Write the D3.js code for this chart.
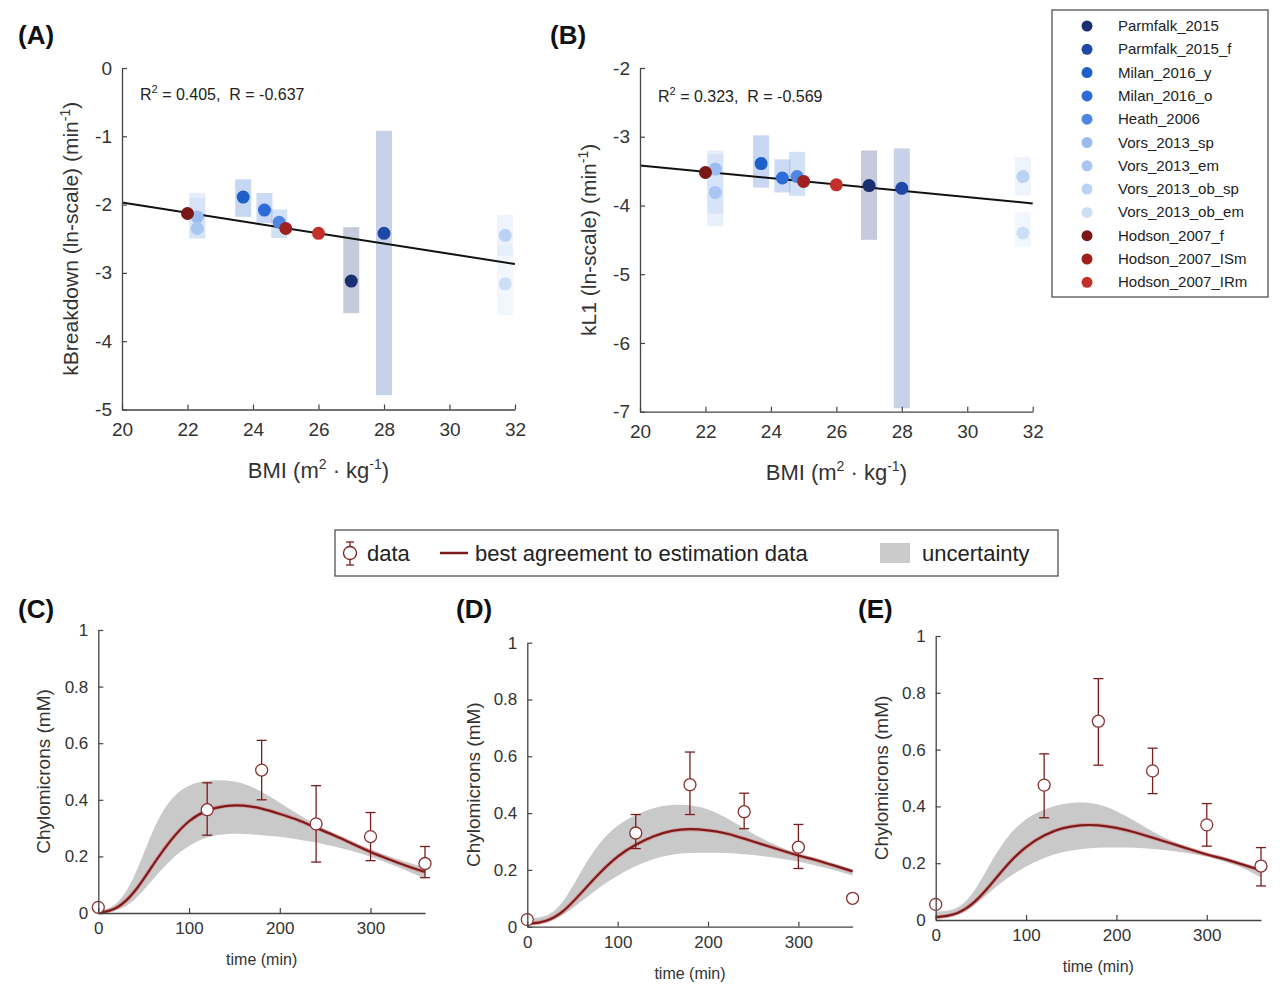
<!DOCTYPE html>
<html><head><meta charset="utf-8">
<script src="https://cdn.jsdelivr.net/npm/d3@7"></script>
<style>body{margin:0;background:#fff}text{font-family:Arial,"Liberation Sans",sans-serif;white-space:pre}</style>
</head><body>
<svg id="c" width="1280" height="1002"></svg>
<script>
// ---- data ----
const studies = ["Parmfalk_2015","Parmfalk_2015_f","Milan_2016_y","Milan_2016_o","Heath_2006","Vors_2013_sp","Vors_2013_em","Vors_2013_ob_sp","Vors_2013_ob_em","Hodson_2007_f","Hodson_2007_ISm","Hodson_2007_IRm"];
const studyColors = ["#1b2f70","#1f47a6","#1f5fc8","#2d6bd9","#4f86e0","#9cbcf0","#a9c5f2","#bbd2f4","#cddff7","#7a1616","#a01f1f","#c2302a"];
const bmi = [27.0,28.0,23.7,24.35,24.8,22.3,22.3,31.7,31.7,22.0,25.0,26.0];
const kBreak = [-3.12,-2.42,-1.89,-2.08,-2.26,-2.18,-2.35,-2.45,-3.16,-2.13,-2.35,-2.42];
const kBreakLo = [-3.59,-4.79,-2.18,-2.27,-2.49,-2.49,-2.5,-2.75,-3.62,null,null,null];
const kBreakHi = [-2.33,-0.92,-1.63,-1.83,-2.07,-1.83,-1.9,-2.15,-2.6,null,null,null];
const kL1 = [-3.71,-3.75,-3.39,-3.60,-3.58,-3.47,-3.81,-3.58,-4.40,-3.52,-3.65,-3.70];
const kL1Lo = [-4.5,-6.95,-3.74,-3.81,-3.86,-4.12,-4.3,-3.85,-4.6,null,null,null];
const kL1Hi = [-3.2,-3.17,-2.98,-3.33,-3.22,-3.2,-3.25,-3.3,-4.1,null,null,null];
const fitBmi = [20,32];
const fitA = [-1.97,-2.87];
const fitB = [-3.42,-3.97];
const bmiTicks = [20,22,24,26,28,30,32];

const tData = [0,120,180,240,300,360];
const dataC = [0.02,0.365,0.505,0.315,0.27,0.175];
const loC = [null,0.275,0.40,0.18,0.185,0.125];
const hiC = [null,0.46,0.61,0.45,0.355,0.235];
const dataD = [0.025,0.33,0.50,0.405,0.28,0.10];
const loD = [null,0.275,0.395,0.345,0.205,0.09];
const hiD = [null,0.395,0.615,0.47,0.36,0.11];
const dataE = [0.055,0.475,0.70,0.525,0.335,0.19];
const loE = [null,0.36,0.545,0.445,0.26,0.12];
const hiE = [null,0.585,0.85,0.605,0.41,0.255];
const tModel = [0,20,40,60,80,100,120,140,160,180,200,220,240,260,280,300,320,340,360];
const fitC = [0,0.01,0.07,0.17,0.26,0.33,0.365,0.38,0.382,0.37,0.35,0.33,0.30,0.275,0.245,0.215,0.19,0.165,0.145];
const upC = [0.005,0.02,0.12,0.30,0.41,0.455,0.47,0.47,0.46,0.43,0.39,0.35,0.31,0.28,0.25,0.225,0.20,0.18,0.16];
const dnC = [0,0.005,0.04,0.12,0.19,0.24,0.27,0.28,0.28,0.275,0.27,0.26,0.25,0.235,0.22,0.20,0.175,0.15,0.12];
const fitD = [0.01,0.015,0.05,0.12,0.19,0.25,0.29,0.32,0.34,0.345,0.34,0.33,0.31,0.29,0.27,0.25,0.235,0.215,0.195];
const upD = [0.03,0.03,0.08,0.2,0.3,0.36,0.395,0.42,0.43,0.43,0.415,0.385,0.345,0.31,0.28,0.255,0.24,0.22,0.2];
const dnD = [0.005,0.01,0.04,0.09,0.14,0.18,0.215,0.24,0.255,0.26,0.26,0.26,0.255,0.25,0.24,0.23,0.215,0.2,0.18];
const fitE = [0.01,0.015,0.05,0.12,0.2,0.26,0.3,0.325,0.335,0.335,0.325,0.31,0.29,0.27,0.25,0.23,0.215,0.195,0.175];
const upE = [0.03,0.03,0.08,0.2,0.3,0.36,0.39,0.41,0.415,0.41,0.385,0.35,0.31,0.28,0.255,0.235,0.215,0.195,0.165];
const dnE = [0.005,0.01,0.04,0.1,0.15,0.19,0.22,0.24,0.25,0.255,0.255,0.255,0.25,0.245,0.235,0.225,0.205,0.185,0.15];
const timeTicks = [0,100,200,300];
const concTicks = [0,0.2,0.4,0.6,0.8,1];

const svg = d3.select("#c");
const axCol = "#444", dark = "#7b1c1c";
const hy = d => String(d);

function styleAxis(g,fs){
  g.select(".domain").attr("stroke",axCol).attr("stroke-width",1.3);
  g.selectAll(".tick line").attr("stroke",axCol).attr("stroke-width",1.2);
  g.selectAll(".tick text").attr("fill","#333").style("font-size",fs+"px");
}
function label(x,y,txt){ svg.append("text").attr("x",x).attr("y",y).attr("font-weight","bold").style("font-size","26px").attr("fill","#111").text(txt); }

function scatter(x0,x1,y0,y1,dom,vals,lo,hi,fit,rtxt,rx,ry,ylab,ylx){
  const x = d3.scaleLinear().domain([20,32]).range([x0,x1]);
  const y = d3.scaleLinear().domain(dom).range([y0,y1]);
  const g = svg.append("g");
  bmi.forEach((b,i)=>{ if(lo[i]!==null) g.append("rect").attr("x",x(b)-8).attr("width",16)
      .attr("y",y(hi[i])).attr("height",y(lo[i])-y(hi[i])).attr("fill",studyColors[i]).attr("opacity",0.25); });
  g.append("line").attr("x1",x(fitBmi[0])).attr("x2",x(fitBmi[1])).attr("y1",y(fit[0])).attr("y2",y(fit[1])).attr("stroke","#111").attr("stroke-width",2);
  const order = [5,6,7,8,4,3,2,1,0,9,10,11];
  order.forEach(i=> g.append("circle").attr("cx",x(bmi[i])).attr("cy",y(vals[i])).attr("r",6.5).attr("fill",studyColors[i]));
  const xa = svg.append("g").attr("transform",`translate(0,${y1})`).call(d3.axisBottom(x).tickValues(bmiTicks).tickFormat(hy).tickSizeInner(-5).tickSizeOuter(0).tickPadding(13)); styleAxis(xa,19);
  const ya = svg.append("g").attr("transform",`translate(${x0},0)`).call(d3.axisLeft(y).ticks(6).tickFormat(hy).tickSizeInner(-5).tickSizeOuter(0).tickPadding(10)); styleAxis(ya,19);
  const t = svg.append("text").attr("x",rx).attr("y",ry).style("font-size","16px").attr("fill","#222");
  t.append("tspan").text("R"); t.append("tspan").attr("dy",-7).style("font-size","11px").text("2");
  t.append("tspan").attr("dy",7).text(" = "+rtxt);
  const yl = svg.append("text").attr("transform",`translate(${ylx},${(y0+y1)/2}) rotate(-90)`).attr("text-anchor","middle").style("font-size","21px").attr("fill","#333");
  yl.append("tspan").text(ylab+" (min"); yl.append("tspan").attr("dy",-8).style("font-size","14px").text("-1"); yl.append("tspan").attr("dy",8).text(")");
  const xl = svg.append("text").attr("x",(x0+x1)/2).attr("y",y1+68).attr("text-anchor","middle").style("font-size","22px").attr("fill","#333");
  xl.append("tspan").text("BMI (m"); xl.append("tspan").attr("dy",-9).style("font-size","14px").text("2");
  xl.append("tspan").attr("dy",9).text(" · kg"); xl.append("tspan").attr("dy",-9).style("font-size","14px").text("-1");
  xl.append("tspan").attr("dy",9).text(")");
}
scatter(122,515,68,409.5,[0,-5],kBreak,kBreakLo,kBreakHi,fitA,"0.405,  R = -0.637",140,100,"kBreakdown (ln-scale)",78);
scatter(640,1032.7,68,411.7,[-2,-7],kL1,kL1Lo,kL1Hi,fitB,"0.323,  R = -0.569",658,102,"kL1 (ln-scale)",596);
label(18,44,"(A)"); label(550,44,"(B)");

// legend top
svg.append("rect").attr("x",1052).attr("y",10).attr("width",216).attr("height",287).attr("fill","#fff").attr("stroke","#444").attr("stroke-width",1.2);
studies.forEach((s,i)=>{
  const yy = 26 + i*23.3;
  svg.append("circle").attr("cx",1087).attr("cy",yy).attr("r",5.5).attr("fill",studyColors[i]);
  svg.append("text").attr("x",1118).attr("y",yy+5).style("font-size","15px").attr("fill","#222").text(s);
});

// bottom legend
svg.append("rect").attr("x",335).attr("y",530).attr("width",723).attr("height",46).attr("fill","#fff").attr("stroke","#444").attr("stroke-width",1.2);
svg.append("line").attr("x1",350).attr("x2",350).attr("y1",542).attr("y2",565).attr("stroke",dark).attr("stroke-width",1.3);
[542,565].forEach(v=>svg.append("line").attr("x1",346).attr("x2",354).attr("y1",v).attr("y2",v).attr("stroke",dark).attr("stroke-width",1.3));
svg.append("circle").attr("cx",350).attr("cy",553).attr("r",6.5).attr("fill","#fff").attr("stroke",dark).attr("stroke-width",1.3);
svg.append("text").attr("x",367).attr("y",561).style("font-size","22px").attr("fill","#222").text("data");
svg.append("line").attr("x1",440).attr("x2",468).attr("y1",553).attr("y2",553).attr("stroke",dark).attr("stroke-width",2.5);
svg.append("text").attr("x",475).attr("y",561).style("font-size","22px").attr("fill","#222").text("best agreement to estimation data");
svg.append("rect").attr("x",880).attr("y",543).attr("width",30).attr("height",20).attr("fill","#cbcbcb");
svg.append("text").attr("x",922).attr("y",561).style("font-size","22px").attr("fill","#222").text("uncertainty");

function timePanel(x0,x1,y0,y1,vals,lo,hi,fit,up,dn,ylx){
  const x = d3.scaleLinear().domain([0,360]).range([x0,x1]);
  const y = d3.scaleLinear().domain([0,1]).range([y0,y1]);
  const g = svg.append("g");
  const area = d3.area().x((d,i)=>x(tModel[i])).y0((d,i)=>y(dn[i])).y1(d=>y(d)).curve(d3.curveBasis);
  g.append("path").attr("d",area(up)).attr("fill","#c9c9c9");
  const line = d3.line().x((d,i)=>x(tModel[i])).y(d=>y(d)).curve(d3.curveBasis);
  g.append("path").attr("d",line(fit)).attr("fill","none").attr("stroke","#e07a7a").attr("stroke-width",4).attr("opacity",0.6);
  g.append("path").attr("d",line(fit)).attr("fill","none").attr("stroke",dark).attr("stroke-width",2.2);
  const xa = svg.append("g").attr("transform",`translate(0,${y0})`).call(d3.axisBottom(x).tickValues(timeTicks).tickSizeInner(-5).tickSizeOuter(0).tickPadding(9)); styleAxis(xa,17);
  const ya = svg.append("g").attr("transform",`translate(${x0},0)`).call(d3.axisLeft(y).tickValues(concTicks).tickFormat(d3.format("~g")).tickSizeInner(-5).tickSizeOuter(0).tickPadding(10)); styleAxis(ya,17);
  tData.forEach((t,i)=>{
    if(lo[i]!==null){
      g.append("line").attr("x1",x(t)).attr("x2",x(t)).attr("y1",y(lo[i])).attr("y2",y(hi[i])).attr("stroke",dark).attr("stroke-width",1.3);
      [lo[i],hi[i]].forEach(v=>g.append("line").attr("x1",x(t)-5).attr("x2",x(t)+5).attr("y1",y(v)).attr("y2",y(v)).attr("stroke",dark).attr("stroke-width",1.3));
    }
    g.append("circle").attr("cx",x(t)).attr("cy",y(vals[i])).attr("r",6).attr("fill","#fff").attr("stroke","#8a3030").attr("stroke-width",1.3);
  });
  svg.append("text").attr("x",(x0+x1)/2).attr("y",y0+52).attr("text-anchor","middle").style("font-size","16px").attr("fill","#333").text("time (min)");
  svg.append("text").attr("transform",`translate(${ylx},${(y0+y1)/2}) rotate(-90)`).attr("text-anchor","middle").style("font-size","19px").attr("fill","#333").text("Chylomicrons (mM)");
}
timePanel(98.3,425,913,630,dataC,loC,hiC,fitC,upC,dnC,50);
timePanel(527.3,852.6,926.7,642.7,dataD,loD,hiD,fitD,upD,dnD,480);
timePanel(935.7,1261,920,636,dataE,loE,hiE,fitE,upE,dnE,888);
label(18,618,"(C)"); label(456,618,"(D)"); label(858,618,"(E)");
</script>
</body></html>
